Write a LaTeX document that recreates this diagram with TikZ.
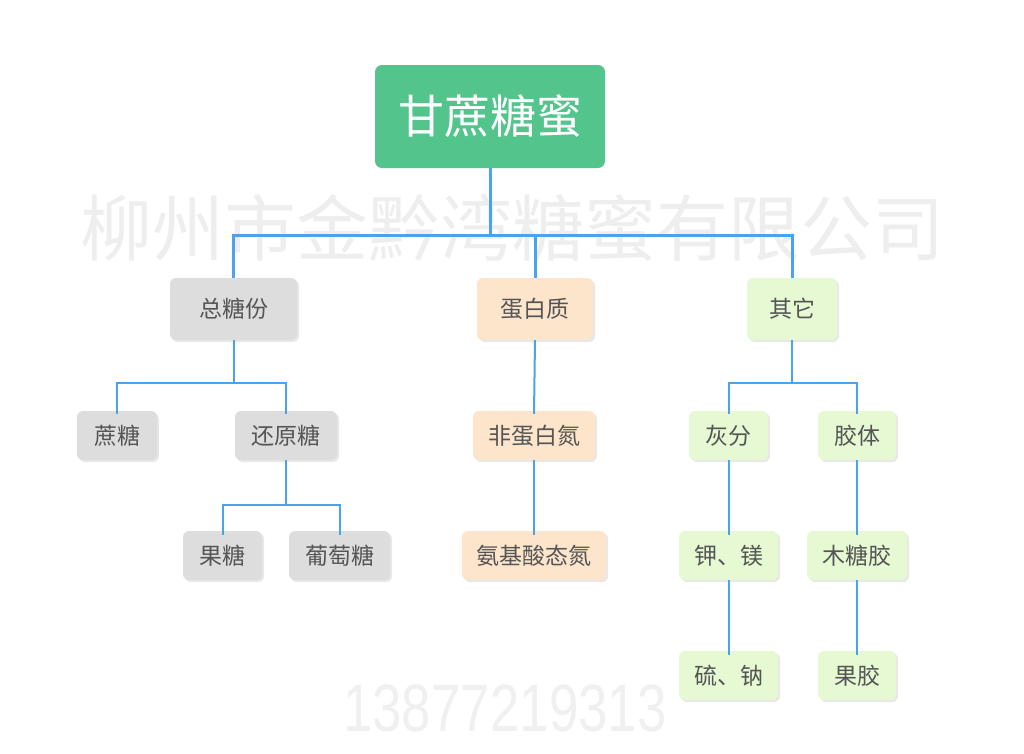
\documentclass[tikz,border=0pt]{standalone}
\usepackage{fontspec}
\setmainfont{Noto Sans CJK SC}
\newfontfamily\digitfont{Liberation Sans}
\usetikzlibrary{shadows}
\definecolor{rootgreen}{HTML}{52C48C}
\definecolor{graynode}{HTML}{DDDDDD}
\definecolor{peach}{HTML}{FDE5CC}
\definecolor{lgreen}{HTML}{E6F9D2}
\definecolor{linkblue}{HTML}{4AA3EE}
\definecolor{txtgray}{HTML}{555555}
\definecolor{wm}{HTML}{EEEEEE}
\definecolor{wmd}{HTML}{F0F0F0}
\tikzset{
  box/.style={rounded corners=6pt, inner sep=0pt, text=txtgray,
    font=\fontsize{23}{23}\selectfont,
    drop shadow={shadow xshift=2pt, shadow yshift=-2pt, opacity=0.22, fill=black!40}},
  lvl1/.style={box, minimum height=62pt},
  lvl2/.style={box, minimum height=49pt},
  gbox/.style={fill=graynode},
  pbox/.style={fill=peach},
  lbox/.style={fill=lgreen},
  link/.style={draw=linkblue, line width=2pt},
  mainlink/.style={draw=linkblue, line width=3pt},
  watermark/.style={text=wm, inner sep=0pt}
}
\begin{document}
\begin{tikzpicture}[x=1pt,y=-1pt]
\useasboundingbox[fill=white] (0,0) rectangle (1024,753);
% watermarks
\node[watermark, font=\fontsize{72}{72}\selectfont] (wm1) at (512,228) {柳州市金黔湾糖蜜有限公司};
\node[watermark, text=wmd, font=\digitfont\fontsize{67}{67}\selectfont, xscale=0.79] (wm2) at (505,708) {13877219313};
% root
\node[rounded corners=7pt, fill=rootgreen, text=white, minimum width=230pt, minimum height=103pt,
  font=\fontsize{46}{46}\selectfont, inner sep=0pt] (root) at (490,116.5) {\raisebox{-3pt}{甘蔗糖蜜}};
% level 1
\node[lvl1, gbox, minimum width=127pt] (zt) at (233.5,309) {总糖份};
\node[lvl1, pbox, minimum width=116pt] (dbz) at (535,309) {蛋白质};
\node[lvl1, lbox, minimum width=90pt] (qt) at (792,309) {其它};
% level 2
\node[lvl2, gbox, minimum width=80pt] (zhe) at (117,435.5) {蔗糖};
\node[lvl2, gbox, minimum width=102pt] (hyt) at (286,435.5) {还原糖};
\node[lvl2, pbox, minimum width=122pt] (fdb) at (534,435.5) {非蛋白氮};
\node[lvl2, lbox, minimum width=79pt] (hf) at (728.5,435.5) {灰分};
\node[lvl2, lbox, minimum width=78pt] (jt) at (857,435.5) {胶体};
% level 3
\node[lvl2, gbox, minimum width=79pt] (gt) at (222.5,555.5) {果糖};
\node[lvl2, gbox, minimum width=101pt] (ptt) at (339.5,555.5) {葡萄糖};
\node[lvl2, pbox, minimum width=144pt] (ajs) at (534,555.5) {氨基酸态氮};
\node[lvl2, lbox, minimum width=99pt] (jm) at (728.5,555.5) {钾、镁};
\node[lvl2, lbox, minimum width=100pt] (mtj) at (857,555.5) {木糖胶};
% level 4
\node[lvl2, lbox, minimum width=99pt] (ln) at (728.5,675.5) {硫、钠};
\node[lvl2, lbox, minimum width=78pt] (gj) at (857,675.5) {果胶};
% connectors
\draw[mainlink] (root.south) -- ++(0,67) -| (zt.north);
\draw[mainlink] (root.south) -- ++(0,67) -| (qt.north);
\draw[mainlink] (root.south) -- ++(0,67) -| (dbz.north);
\draw[link] (zt.south) -- ++(0,43) -| ([yshift=-3pt]zhe.north);
\draw[link] (zt.south) -- ++(0,43) -| ([yshift=-3pt]hyt.north);
\draw[link] (hyt.south) -- ++(0,45) -| ([yshift=-4pt]gt.north);
\draw[link] (hyt.south) -- ++(0,45) -| ([yshift=-4pt]ptt.north);
\draw[link] (dbz.south) -- ([yshift=-3pt]fdb.north);
\draw[link] (fdb.south) -- ([yshift=-4pt]ajs.north);
\draw[link] (qt.south) -- ++(0,43) -| ([yshift=-3pt]hf.north);
\draw[link] (qt.south) -- ++(0,43) -| ([yshift=-3pt]jt.north);
\draw[link] (hf.south) -- ([yshift=-4pt]jm.north);
\draw[link] (jm.south) -- ([yshift=-4pt]ln.north);
\draw[link] (jt.south) -- ([yshift=-4pt]mtj.north);
\draw[link] (mtj.south) -- ([yshift=-4pt]gj.north);
\end{tikzpicture}
\end{document}
